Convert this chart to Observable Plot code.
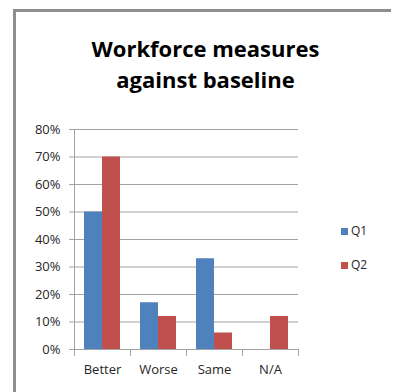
<!DOCTYPE html>
<html>
<head>
<meta charset="utf-8">
<script src="https://cdn.jsdelivr.net/npm/d3@7"></script>
<script src="https://cdn.jsdelivr.net/npm/@observablehq/plot@0.6"></script>
<style>
  html, body { margin: 0; padding: 0; background: #fff; overflow: hidden; }
  #chart { position: relative; width: 395px; height: 392px; font-family: "Open Sans", Lato, sans-serif; }
  .edge { position: absolute; background: #8e8e8e; }
  #edge-left { left: 13px; top: 9px; width: 3px; height: 383px; }
  #edge-top { left: 13px; top: 9px; width: 378px; height: 3px; }
  #title { position: absolute; left: 16px; width: 379px; top: 33px; text-align: center; font-weight: 700; font-size: 22px; line-height: 31px; color: #000; }
  #plot { position: absolute; left: 0; top: 0; width: 395px; height: 392px; }
  #plot svg { display: block; overflow: visible; }
  #plot text { fill: #262626; }
  .legend-item { position: absolute; left: 341px; display: flex; align-items: center; font-size: 12px; line-height: 16px; color: #262626; }
  .legend-item span.sw { width: 7px; height: 7px; margin-right: 3px; display: inline-block; }
</style>
</head>
<body>
<div id="chart">
  <div class="edge" id="edge-left"></div>
  <div class="edge" id="edge-top"></div>
  <div id="title">Workforce measures<br>against baseline</div>
  <div id="plot"></div>
  <div id="legend"></div>
</div>
<script>
// Share of responses by outcome, for each quarter
const categories = ["Better", "Worse", "Same", "N/A"];
const seriesNames = ["Q1", "Q2"];
const q1Values = [0.50, 0.17, 0.33, 0];
const q2Values = [0.70, 0.12, 0.06, 0.12];
const seriesColors = ["#4F81BD", "#C0504D"];
const yTicks = [0, 0.1, 0.2, 0.3, 0.4, 0.5, 0.6, 0.7, 0.8];

const rows = categories.flatMap((category, i) => [
  {category, series: seriesNames[0], value: q1Values[i]},
  {category, series: seriesNames[1], value: q2Values[i]}
]);

const lineColor = "#a3a3a3";
const plotHeight = 392;
const margins = {top: 129, right: 96, bottom: 43, left: 73};
const innerHeight = plotHeight - margins.top - margins.bottom;

const chart = Plot.plot({
  width: 395,
  height: plotHeight,
  marginTop: margins.top,
  marginRight: margins.right,
  marginBottom: margins.bottom,
  marginLeft: margins.left,
  style: {fontFamily: "'Open Sans', Lato, sans-serif", fontSize: "13px", color: lineColor, background: "transparent"},
  fx: {domain: categories, padding: 0, label: null, axis: "bottom", tickSize: 0, tickPadding: 15},
  x: {domain: seriesNames, paddingInner: 0, paddingOuter: 0.5, axis: null},
  y: {domain: [0, 0.8], ticks: yTicks, tickFormat: d3.format(".0%"), axis: "left", tickSize: 5, tickPadding: 9, line: true, label: null},
  color: {domain: seriesNames, range: seriesColors},
  marks: [
    Plot.gridY(yTicks, {stroke: lineColor, strokeOpacity: 1}),
    Plot.barY(rows, {fx: "category", x: "series", y: "value", fill: "series"}),
    // category separators below the baseline
    Plot.frame({anchor: "left", insetTop: innerHeight, insetBottom: -6, stroke: lineColor}),
    Plot.frame({anchor: "right", insetTop: innerHeight, insetBottom: -6, stroke: lineColor})
  ]
});
document.getElementById("plot").append(chart);

// legend
const legend = document.getElementById("legend");
const legendTops = [223, 257];
seriesNames.forEach((name, i) => {
  const item = document.createElement("div");
  item.className = "legend-item";
  item.style.top = legendTops[i] + "px";
  const sw = document.createElement("span");
  sw.className = "sw";
  sw.style.background = seriesColors[i];
  item.append(sw, document.createTextNode(name));
  legend.append(item);
});
</script>
</body>
</html>
